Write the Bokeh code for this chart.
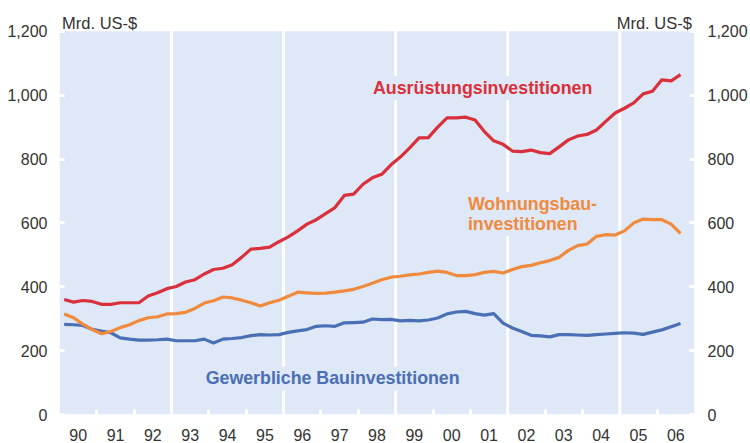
from bokeh.plotting import figure
from bokeh.models import FixedTicker, NumeralTickFormatter, LinearAxis, Range1d
from bokeh.core.properties import value
from bokeh.embed import file_html
from bokeh.resources import INLINE

# Quarterly data 1990 Q1 - 2006 Q3, Mrd. US-$
start_year = 1990
end_year = 2007
ausruestung = [360, 352, 357, 354, 345, 345, 350, 350, 350, 371, 381, 394, 401, 415, 422, 440,
               454, 458, 469, 492, 518, 520, 524, 541, 556, 575, 596, 610, 629, 648, 686, 690,
               721, 741, 752, 782, 806, 835, 866, 867, 900, 929, 929, 931, 922, 886, 857, 846,
               825, 823, 828, 820, 817, 838, 860, 872, 877, 891, 918, 944, 959, 976, 1004, 1012,
               1048, 1045, 1064]
wohnungsbau = [315, 303, 283, 266, 253, 260, 272, 281, 294, 303, 306, 315, 316, 320, 332, 349,
               356, 368, 365, 358, 350, 340, 350, 358, 370, 383, 381, 379, 380, 383, 387, 392,
               401, 411, 422, 430, 433, 437, 440, 445, 449, 445, 435, 435, 438, 445, 448, 443,
               454, 463, 467, 475, 482, 492, 514, 529, 534, 558, 563, 562, 575, 600, 612, 610,
               610, 596, 567]
gewerblich = [282, 281, 279, 267, 261, 256, 240, 236, 233, 233, 234, 236, 231, 231, 231, 236,
              224, 236, 238, 241, 247, 250, 249, 250, 257, 262, 266, 276, 278, 276, 287, 288,
              289, 299, 297, 298, 293, 295, 293, 296, 302, 315, 321, 323, 316, 311, 316, 286,
              271, 260, 248, 246, 243, 250, 250, 249, 248, 250, 252, 254, 256, 255, 251, 258,
              265, 275, 285]
year_labels = ["90", "91", "92", "93", "94", "95", "96", "97", "98", "99",
               "00", "01", "02", "03", "04", "05", "06"]
separators = [1993, 1996, 1999, 2002, 2005]
y_ticks = [0, 200, 400, 600, 800, 1000, 1200]
y_max = 1200
unit_label = "Mrd. US-$"

RED = "#d9303b"
ORANGE = "#f08a3c"
BLUE = "#4a6fb5"
BG = "#dee8f6"
TXT = "#333333"
FONT = "Liberation Sans"

# headroom above the plotting area (for the unit labels), in data units
Y_TOP = 1296.4

xq = [start_year + (i + 0.5) / 4 for i in range(len(ausruestung))]

p = figure(width=750, height=443,
           x_range=Range1d(start_year, end_year), y_range=Range1d(0, Y_TOP),
           output_backend="svg", toolbar_location=None,
           min_border_left=59, min_border_right=52, min_border_top=0, min_border_bottom=26)
p.background_fill_color = "white"
p.border_fill_color = "white"
p.outline_line_color = None
p.grid.visible = False

# plotting area background
p.quad(left=[start_year], right=[end_year], bottom=[0], top=[y_max],
       fill_color=BG, line_color=None)

# x axis
centers = [start_year + k + 0.5 for k in range(len(year_labels))]
p.xaxis.ticker = FixedTicker(ticks=centers, minor_ticks=list(range(start_year + 1, end_year)))
p.xaxis.major_label_overrides = {c: lab for c, lab in zip(centers, year_labels)}
p.xaxis.axis_line_color = None
p.xaxis.major_tick_line_color = None
p.xaxis.minor_tick_in = 5
p.xaxis.minor_tick_out = 0
p.xaxis.minor_tick_line_color = "white"
p.xaxis.minor_tick_line_width = 3
p.xaxis.major_label_standoff = 8
p.xaxis.major_label_text_font = FONT
p.xaxis.major_label_text_font_size = "16px"
p.xaxis.major_label_text_color = TXT


def style_y(ax, standoff):
    ax.ticker = FixedTicker(ticks=y_ticks)
    ax.formatter = NumeralTickFormatter(format="0,0")
    ax.axis_line_color = None
    ax.major_tick_in = 5
    ax.major_tick_out = 0
    ax.major_tick_line_color = "white"
    ax.major_tick_line_width = 3
    ax.minor_tick_line_color = None
    ax.major_label_standoff = standoff
    ax.major_label_text_font = FONT
    ax.major_label_text_font_size = "16px"
    ax.major_label_text_color = TXT


style_y(p.yaxis[0], 12)
right_axis = LinearAxis()
style_y(right_axis, 13)
p.add_layout(right_axis, "right")

# white separators every three years
p.segment(x0=separators, y0=[0] * len(separators), x1=separators, y1=[y_max] * len(separators),
          line_color="white", line_width=3)

# series labels (with background that interrupts the separators)
lab_kw = dict(text_font=value(FONT), text_font_style="bold", text_font_size="17.8px",
              text_align="left", text_baseline="alphabetic",
              background_fill_color=BG, padding=2)
p.text(x=[1998.34], y=[1022], text=["Ausrüstungsinvestitionen"], text_color=RED, **lab_kw)
# second line first, so the first line's descenders stay on top
p.text(x=[2000.88, 2000.88], y=[597, 659], text=["investitionen", "Wohnungsbau-"],
       text_color=ORANGE, **lab_kw)
p.text(x=[1993.86], y=[113], text=["Gewerbliche Bauinvestitionen"], text_color=BLUE, **lab_kw)

# data lines
p.line(xq, gewerblich, line_color=BLUE, line_width=3.2, line_join="round")
p.line(xq, wohnungsbau, line_color=ORANGE, line_width=3.2, line_join="round")
p.line(xq, ausruestung, line_color=RED, line_width=3.2, line_join="round")

# unit labels above the plotting area
unit_kw = dict(text_font=value(FONT), text_font_size="16.5px", text_color=TXT,
               text_baseline="alphabetic")
p.text(x=[1990.07], y=[1226], text=[unit_label], text_align="left", **unit_kw)
p.text(x=[2006.93], y=[1226], text=[unit_label], text_align="right", **unit_kw)

open("out.html", "w").write(file_html(p, INLINE))
